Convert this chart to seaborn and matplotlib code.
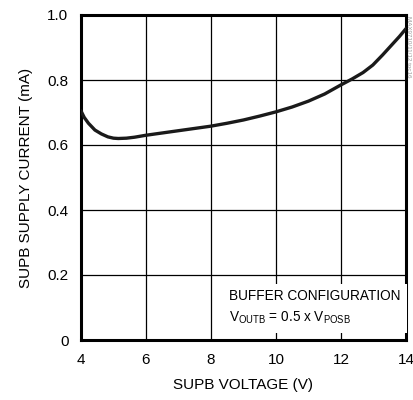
import matplotlib
matplotlib.use("Agg")
import matplotlib.pyplot as plt
import seaborn as sns
import pandas as pd

# SUPB supply current vs. SUPB voltage (buffer configuration)
voltage = [4.0, 4.1, 4.23, 4.43, 4.63, 4.83, 5.0, 5.15, 5.4, 5.65, 6.0, 6.5,
           7.0, 7.5, 8.0, 8.5, 9.0, 9.5, 10.0, 10.5, 11.0, 11.5, 12.0, 12.34,
           12.68, 12.98, 13.28, 13.59, 13.8, 14.0]
current = [0.705, 0.685, 0.667, 0.646, 0.634, 0.625, 0.621, 0.620, 0.621,
           0.624, 0.630, 0.637, 0.644, 0.651, 0.658, 0.667, 0.677, 0.689,
           0.702, 0.717, 0.735, 0.757, 0.785, 0.803, 0.823, 0.846, 0.877,
           0.911, 0.934, 0.958]

x_ticks = [4, 6, 8, 10, 12, 14]
y_ticks = [0, 0.2, 0.4, 0.6, 0.8, 1.0]
y_tick_labels = ["0", "0.2", "0.4", "0.6", "0.8", "1.0"]

sns.set_theme(style="white")
plt.rcParams["font.family"] = ["Liberation Sans", "DejaVu Sans"]
plt.rcParams["mathtext.fontset"] = "custom"
plt.rcParams["mathtext.rm"] = "Liberation Sans"

df = pd.DataFrame({"V": voltage, "I": current})

fig = plt.figure(figsize=(4.13, 4.0), dpi=100)
ax = fig.add_axes([0.196, 0.15, 0.787, 0.8125])

sns.lineplot(data=df, x="V", y="I", ax=ax, color="#1a1a1a", linewidth=2.4, zorder=3)

ax.set_xlim(4, 14)
ax.set_ylim(0, 1.0)
ax.set_xticks(x_ticks)
ax.set_yticks(y_ticks)
ax.set_yticklabels(y_tick_labels)
ax.grid(True, color="black", linewidth=0.9)
ax.set_axisbelow(True)
for s in ax.spines.values():
    s.set_color("black")
    s.set_linewidth(2.2)
ax.tick_params(axis="both", labelsize=11, length=0, pad=9, colors="black")

ax.set_xlabel("SUPB VOLTAGE (V)", fontsize=11, color="black", labelpad=8)
ax.set_ylabel("SUPB SUPPLY CURRENT (mA)", fontsize=11, color="black", labelpad=10)

ax.text(0.455, 0.1, "BUFFER CONFIGURATION\n"
        r"V$_{\mathrm{OUTB}}$ = 0.5 x V$_{\mathrm{POSB}}$",
        transform=ax.transAxes, ha="left", va="center", multialignment="left",
        fontsize=9.8, linespacing=1.55, color="black", zorder=4,
        bbox=dict(boxstyle="square,pad=0.5", facecolor="white", edgecolor="none"))

fig.text(0.988, 0.96, "MAX9710/11/12 toc16", rotation=-90, ha="center", va="top",
         fontsize=4.5, color="#999999")

fig.savefig("out.png", dpi=100)
